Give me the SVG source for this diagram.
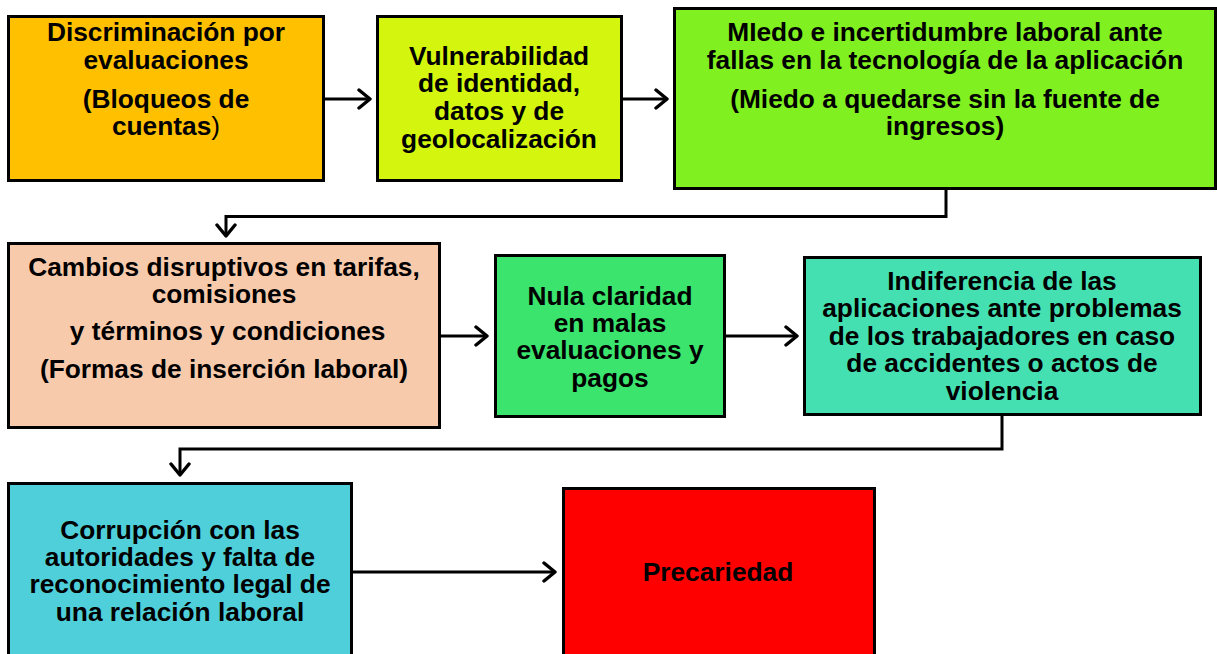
<svg xmlns="http://www.w3.org/2000/svg" width="1217" height="654" viewBox="0 0 1217 654">
<style>
.box{stroke:#000;stroke-width:3}
.t{font-family:"Liberation Sans",Arial,sans-serif;font-weight:bold;font-size:26.3px;fill:#000;text-anchor:middle}
.c{fill:none;stroke:#000;stroke-width:3}
</style>
<defs>
<marker id="ah" markerWidth="20" markerHeight="22" refX="15" refY="11" orient="auto" markerUnits="userSpaceOnUse">
<path d="M4,2 L15,11 L4,20" fill="none" stroke="#000" stroke-width="3.4" stroke-linecap="round" stroke-linejoin="round"/>
</marker>
</defs>
<rect width="1217" height="654" fill="#fff"/>
<g id="connectors">
<path class="c" d="M323,99 H370" marker-end="url(#ah)"/>
<path class="c" d="M621,99 H667" marker-end="url(#ah)"/>
<path class="c" d="M946,189 V216.5 H226 V236" marker-end="url(#ah)"/>
<path class="c" d="M439,336 H487" marker-end="url(#ah)"/>
<path class="c" d="M725,336 H797" marker-end="url(#ah)"/>
<path class="c" d="M1002,415 V449 H180 V475" marker-end="url(#ah)"/>
<path class="c" d="M351,572 H555" marker-end="url(#ah)"/>
</g>
<g id="n1">
<rect class="box" x="8.5" y="16.5" width="315" height="164" fill="#FFC000"/>
<text class="t" x="166" y="41">Discriminación por</text>
<text class="t" x="166" y="69">evaluaciones</text>
<text class="t" x="166" y="108">(Bloqueos de</text>
<text class="t" x="166" y="135">cuentas<tspan font-weight="normal">)</tspan></text>
</g>
<g id="n2">
<rect class="box" x="377.5" y="16.5" width="244" height="164" fill="#D4F60E"/>
<text class="t" x="499" y="65">Vulnerabilidad</text>
<text class="t" x="499" y="92">de identidad,</text>
<text class="t" x="499" y="120">datos y de</text>
<text class="t" x="499" y="148">geolocalización</text>
</g>
<g id="n3">
<rect class="box" x="674.5" y="8.5" width="541" height="180" fill="#80F020"/>
<text class="t" x="945" y="41">MIedo e incertidumbre laboral ante</text>
<text class="t" x="945" y="69">fallas en la tecnología de la aplicación</text>
<text class="t" x="945" y="108">(Miedo a quedarse sin la fuente de</text>
<text class="t" x="945" y="135">ingresos)</text>
</g>
<g id="n4">
<rect class="box" x="8.5" y="243.5" width="431" height="184" fill="#F8CAAC"/>
<text class="t" x="224" y="276">Cambios disruptivos en tarifas,</text>
<text class="t" x="224" y="303">comisiones</text>
<text class="t" x="224" y="340" xml:space="preserve"> y términos y condiciones</text>
<text class="t" x="224" y="378">(Formas de inserción laboral)</text>
</g>
<g id="n5">
<rect class="box" x="495.5" y="255.5" width="229" height="161" fill="#3AE46D"/>
<text class="t" x="610" y="305">Nula claridad</text>
<text class="t" x="610" y="332">en malas</text>
<text class="t" x="610" y="359">evaluaciones y</text>
<text class="t" x="610" y="387">pagos</text>
</g>
<g id="n6">
<rect class="box" x="804.5" y="257.5" width="396" height="157" fill="#45E0B2"/>
<text class="t" x="1002" y="290">Indiferencia de las</text>
<text class="t" x="1002" y="317">aplicaciones ante problemas</text>
<text class="t" x="1002" y="345">de los trabajadores en caso</text>
<text class="t" x="1002" y="372">de accidentes o actos de</text>
<text class="t" x="1002" y="400">violencia</text>
</g>
<g id="n7">
<rect class="box" x="8.5" y="483.5" width="343" height="180" fill="#4FCFD9"/>
<text class="t" x="180" y="539">Corrupción con las</text>
<text class="t" x="180" y="566">autoridades y falta de</text>
<text class="t" x="180" y="593">reconocimiento legal de</text>
<text class="t" x="180" y="621">una relación laboral</text>
</g>
<g id="n8">
<rect class="box" x="563.5" y="488.5" width="311" height="175" fill="#FF0000"/>
<text class="t" x="718" y="581">Precariedad</text>
</g>
</svg>
